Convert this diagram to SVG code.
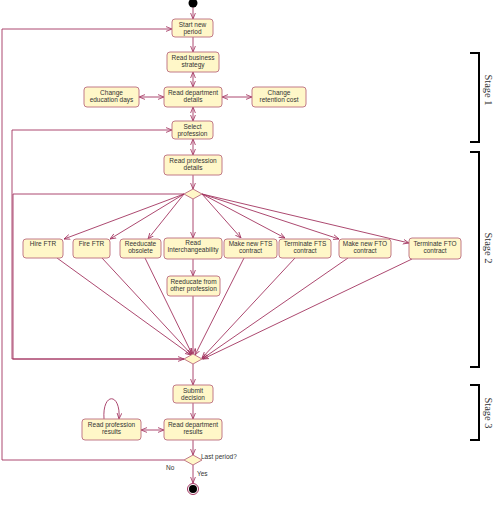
<svg xmlns="http://www.w3.org/2000/svg" width="495" height="510" viewBox="0 0 495 510">
<defs>
<marker id="ah" viewBox="0 0 10 10" refX="10" refY="5" markerWidth="6" markerHeight="6" orient="auto-start-reverse" markerUnits="userSpaceOnUse">
<path d="M0,1 L10,5 L0,9" fill="none" stroke="#a33460" stroke-width="1.4"/>
</marker>
</defs>
<style>
.n rect{fill:#fff7c8;stroke:#c27a88;stroke-width:1}
.n text{font-family:"Liberation Sans",Arial,sans-serif;font-size:6.5px;fill:#333;text-anchor:middle}
.d{fill:#fff7c8;stroke:#c27a88;stroke-width:1}
#connectors path,#connectors line{fill:none;stroke:#a33460;stroke-width:0.9}
.a{marker-end:url(#ah)}
.b{marker-start:url(#ah);marker-end:url(#ah)}
.lbl{font-family:"Liberation Sans",Arial,sans-serif;font-size:6.5px;fill:#333}
.br{fill:none;stroke:#000;stroke-width:2}
.st{font-family:"Liberation Serif","Times New Roman",serif;font-size:10.5px;fill:#333;text-anchor:middle}
</style>
<rect width="495" height="510" fill="#fff"/>
<g id="connectors">
<line class="a" x1="193" y1="7" x2="193" y2="19"/>
<line class="a" x1="193" y1="37" x2="193" y2="52"/>
<line class="b" x1="193" y1="72" x2="193" y2="87"/>
<line class="b" x1="139" y1="97" x2="164" y2="97"/>
<line class="b" x1="222" y1="97" x2="252" y2="97"/>
<line class="b" x1="193" y1="107" x2="193" y2="121"/>
<line class="b" x1="193" y1="139" x2="193" y2="155"/>
<line class="a" x1="193" y1="175" x2="193" y2="189"/>
<line class="a" x1="184" y1="194" x2="64" y2="239"/>
<line class="a" x1="184" y1="194" x2="110" y2="239"/>
<line class="a" x1="184" y1="194" x2="148" y2="239"/>
<line class="a" x1="193" y1="199" x2="193" y2="238"/>
<line class="a" x1="202" y1="194" x2="241" y2="238"/>
<line class="a" x1="202" y1="194" x2="285" y2="238"/>
<line class="a" x1="202" y1="194" x2="339" y2="239"/>
<line class="a" x1="202" y1="194" x2="409" y2="243"/>
<line class="a" x1="193" y1="259" x2="193" y2="276"/>
<line class="a" x1="57" y1="258" x2="191" y2="355"/>
<line class="a" x1="102" y1="258" x2="192" y2="355"/>
<line class="a" x1="145" y1="258" x2="192" y2="354"/>
<line class="a" x1="193" y1="296" x2="193" y2="354"/>
<line class="a" x1="244" y1="258" x2="195" y2="355"/>
<line class="a" x1="295" y1="258" x2="202" y2="358"/>
<line class="a" x1="348" y1="258" x2="202" y2="359"/>
<line class="a" x1="412" y1="259" x2="203" y2="359"/>
<path class="a" d="M184,194 H13 V359 H184"/>
<path class="a" d="M184,359 H12 V130 H172"/>
<line class="a" x1="193" y1="364" x2="193" y2="385"/>
<line class="a" x1="193" y1="403" x2="193" y2="419"/>
<line class="b" x1="141" y1="430" x2="164" y2="430"/>
<path class="a" d="M104,419 C102,392 121,392 119,419"/>
<line class="a" x1="193" y1="440" x2="193" y2="455"/>
<line class="a" x1="193" y1="465" x2="193" y2="483"/>
<path class="a" d="M184,460 H2 V29 H172"/>
</g>
<g id="start"><circle cx="193" cy="3" r="4.5" fill="#000"/></g>
<g id="n_start_period" class="n"><rect x="172" y="19" width="41" height="18" rx="3"/><text x="192.5" y="26.5">Start new</text><text x="192.5" y="33.5">period</text></g>
<g id="n_business" class="n"><rect x="167" y="52" width="52" height="20" rx="3"/><text x="193" y="59.5">Read business</text><text x="193" y="66.5">strategy</text></g>
<g id="n_dept" class="n"><rect x="164" y="87" width="58" height="20" rx="3"/><text x="193" y="94.5">Read department</text><text x="193" y="101.5">details</text></g>
<g id="n_edu" class="n"><rect x="84" y="87" width="55" height="20" rx="3"/><text x="111.5" y="94.5">Change</text><text x="111.5" y="101.5">education days</text></g>
<g id="n_ret" class="n"><rect x="252" y="87" width="54" height="20" rx="3"/><text x="279" y="94.5">Change</text><text x="279" y="101.5">retention cost</text></g>
<g id="n_select" class="n"><rect x="172" y="121" width="41" height="18" rx="3"/><text x="192.5" y="128.5">Select</text><text x="192.5" y="135.5">profession</text></g>
<g id="n_profdet" class="n"><rect x="164" y="155" width="58" height="20" rx="3"/><text x="193" y="162.5">Read profession</text><text x="193" y="169.5">details</text></g>
<g id="dec1"><polygon class="d" points="184,194 193,189 202,194 193,199"/></g>
<g id="n_hire" class="n"><rect x="23" y="239" width="40" height="19" rx="3"/><text x="43" y="245.5">Hire FTR</text></g>
<g id="n_fire" class="n"><rect x="73" y="239" width="37" height="19" rx="3"/><text x="91.5" y="245.5">Fire FTR</text></g>
<g id="n_reobs" class="n"><rect x="120" y="239" width="41" height="19" rx="3"/><text x="140.5" y="246">Reeducate</text><text x="140.5" y="253">obsolete</text></g>
<g id="n_inter" class="n"><rect x="164" y="238" width="58" height="21" rx="3"/><text x="193" y="245">Read</text><text x="193" y="252">Interchangeability</text></g>
<g id="n_mkfts" class="n"><rect x="224" y="239" width="53" height="19" rx="3"/><text x="250.5" y="245.5">Make new FTS</text><text x="250.5" y="252.5">contract</text></g>
<g id="n_tfts" class="n"><rect x="279" y="239" width="52" height="19" rx="3"/><text x="305" y="245.5">Terminate FTS</text><text x="305" y="252.5">contract</text></g>
<g id="n_mkfto" class="n"><rect x="339" y="239" width="52" height="19" rx="3"/><text x="365" y="245.5">Make new FTO</text><text x="365" y="252.5">contract</text></g>
<g id="n_tfto" class="n"><rect x="409" y="238" width="52" height="21" rx="3"/><text x="435" y="245.5">Terminate FTO</text><text x="435" y="252.5">contract</text></g>
<g id="n_reother" class="n"><rect x="167" y="276" width="53" height="20" rx="3"/><text x="193.5" y="283.5">Reeducate from</text><text x="193.5" y="290.5">other profession</text></g>
<g id="dec2"><polygon class="d" points="184,359 193,354 202,359 193,364"/></g>
<g id="n_submit" class="n"><rect x="173" y="385" width="40" height="18" rx="3"/><text x="193" y="392.5">Submit</text><text x="193" y="399.5">decision</text></g>
<g id="n_deptres" class="n"><rect x="164" y="419" width="58" height="21" rx="3"/><text x="193" y="426.5">Read department</text><text x="193" y="433.5">results</text></g>
<g id="n_profres" class="n"><rect x="82" y="419" width="59" height="21" rx="3"/><text x="111.5" y="426.5">Read profession</text><text x="111.5" y="433.5">results</text></g>
<g id="dec3"><polygon class="d" points="184,460 193,455 202,460 193,465"/><text class="lbl" x="201" y="459">Last period?</text><text class="lbl" x="166" y="470">No</text><text class="lbl" x="197" y="476">Yes</text></g>
<g id="end"><circle cx="193" cy="489" r="5.5" fill="#fff" stroke="#a33460" stroke-width="1"/><circle cx="193" cy="489" r="4" fill="#000"/></g>
<g id="stages">
<path class="br" d="M470,53 H479 V142 H470"/>
<text class="st" transform="translate(485,90) rotate(90)">Stage 1</text>
<path class="br" d="M470,152 H479 V367 H470"/>
<text class="st" transform="translate(485,248) rotate(90)">Stage 2</text>
<path class="br" d="M470,385 H479 V440 H470"/>
<text class="st" transform="translate(485,413) rotate(90)">Stage 3</text>
</g>
</svg>
